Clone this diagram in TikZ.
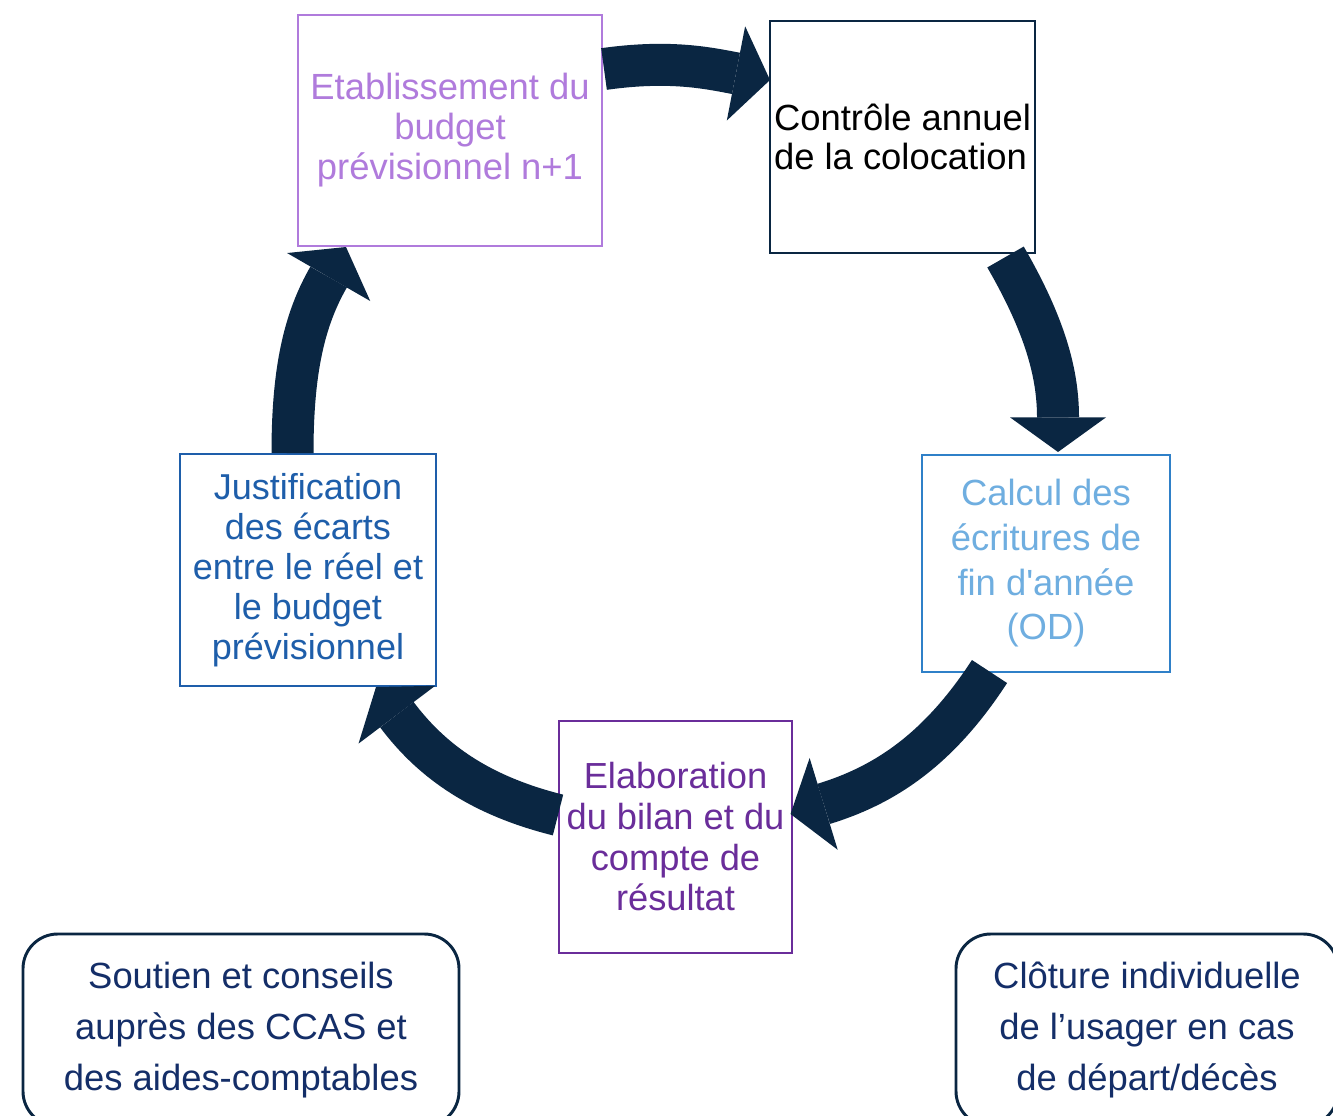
\documentclass[tikz,border=0pt]{standalone}
\usepackage{fontspec}
\setmainfont{Liberation Sans}[Ligatures={TeXOff,CommonOff}]
\usetikzlibrary{arrows.meta,calc}
\definecolor{navy}{HTML}{0A2642}
\definecolor{lpurple}{HTML}{B07BDC}
\definecolor{dpurple}{HTML}{6A2D9A}
\definecolor{mblue}{HTML}{1E5EAA}
\definecolor{lblueline}{HTML}{2F80C8}
\definecolor{lbluetext}{HTML}{6FAEE0}
\definecolor{navytext}{HTML}{142E68}
\tikzset{
  cyclebox/.style={draw, line width=1.5pt, fill=white, inner sep=0pt, outer sep=0pt, align=center},
  sidebox/.style={draw=navy, line width=2.2pt, rounded corners=26pt, fill=white, inner sep=0pt, outer sep=0pt, align=center, text=navytext, minimum height=144pt, font=\fontsize{27.3pt}{38.3pt}\selectfont},
  bigarrow/.style={draw=navy, line width=31.5pt, -{Triangle[width=72pt,length=26pt,line width=0pt]}}
}
\begin{document}
\begin{tikzpicture}[x=0.75pt,y=0.75pt]
\clip (0,0) rectangle (1333,-1115);
\fill[white] (0,0) rectangle (1333,-1115);
% cycle boxes
\node[cyclebox, draw=lpurple, text=lpurple, minimum width=228pt, minimum height=173.25pt,
  font=\fontsize{27.3pt}{30pt}\selectfont] (b1) at (450,-130.5)
  {Etablissement du\\budget\\prévisionnel n+1};
\node[cyclebox, draw=navy, text=black, align=left, minimum width=198.75pt, minimum height=174pt,
  font=\fontsize{27.3pt}{29.3pt}\selectfont] (b2) at (902.5,-137)
  {Contrôle annuel\\de la colocation};
\node[cyclebox, draw=lblueline, text=lbluetext, minimum width=186pt, minimum height=162.75pt,
  font=\fontsize{27.3pt}{33.5pt}\selectfont] (b3) at (1046,-563.5)
  {Calcul des\\écritures de\\fin d'année\\(OD)};
\node[cyclebox, draw=dpurple, text=dpurple, minimum width=174.75pt, minimum height=174pt,
  font=\fontsize{27.2pt}{30.5pt}\selectfont] (b4) at (675.5,-837)
  {Elaboration\\du bilan et du\\compte de\\résultat};
\node[cyclebox, draw=mblue, text=mblue, minimum width=192pt, minimum height=174pt,
  font=\fontsize{27pt}{30pt}\selectfont] (b5) at (308,-570)
  {Justification\\des écarts\\entre le réel et\\le budget\\prévisionnel};
% side boxes
\node[sidebox, minimum width=327pt] (s1) at (241,-1030)
  {Soutien et conseils\\auprès des CCAS et\\des aides-comptables};
\node[sidebox, minimum width=286.5pt] (s2) at (1147,-1030)
  {Clôture individuelle\\de l’usager en cas\\de départ/décès};
% arrows
\draw[bigarrow] ($(b1.north east)+(2,-54)$) to[out=8,in=169] ($(b2.north west)+(0,-59)$);
\draw[bigarrow] ($(b2.south)+(103,-4)$) to[out=-60,in=90] ($(b3.north)+(12,3)$);
\draw[bigarrow] ($(b3.south)+(-56.5,0.5)$) to[out=-123,in=17] ($(b4.east)+(-1.5,23)$);
\draw[bigarrow] ($(b4.west)+(-1,22)$) to[out=166,in=-53] ($(b5.south)+(68,-1)$);
\draw[bigarrow] ($(b5.north)+(-15.5,1)$) to[out=90,in=-120] ($(b1.south)+(-104,-1)$);
\end{tikzpicture}
\end{document}
